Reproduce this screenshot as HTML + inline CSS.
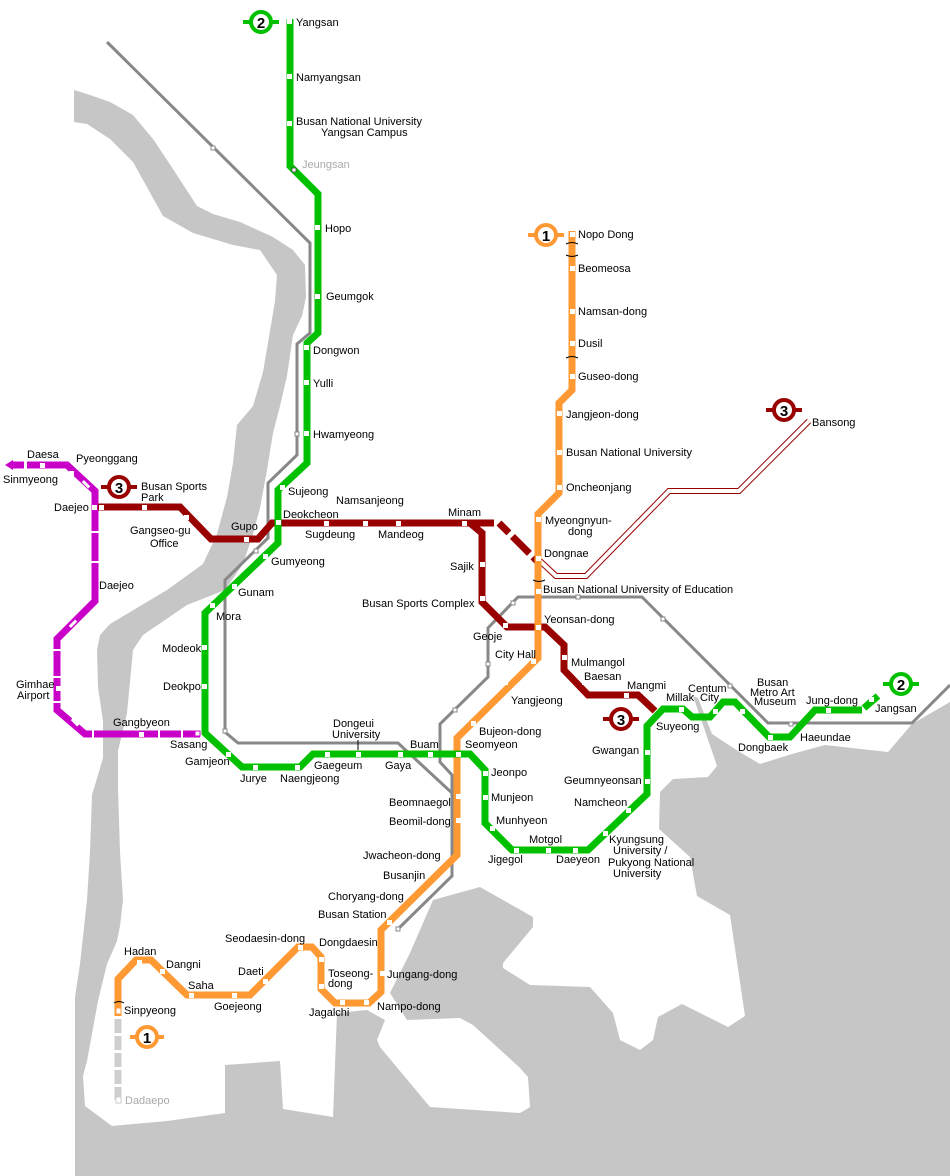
<!DOCTYPE html>
<html><head><meta charset="utf-8"><style>
html,body{margin:0;padding:0;background:#fff}
svg{display:block}
text{font-family:"Liberation Sans",sans-serif;font-size:11px;fill:#000}
.g{fill:#aaa}
.b{font-size:15px;font-weight:bold;text-anchor:middle}
</style></head><body>
<svg width="950" height="1176" viewBox="0 0 950 1176" xmlns="http://www.w3.org/2000/svg">
<!-- water -->
<polygon fill="#c6c6c6" points="74,90 87,94 110,102 133,115 153,139 173,169 197,206 213,214 240,222 273,237 293,250 305,265 306,297 302,316 293,335 287,376 280,406 273,433 267,470 260,508 253,534 243,564 225,590 187,605 143,635 133,650 127,713 118,751 118,788 120,852 123,900 120,926 117,941 107,964 98,1001 87,1061 83,1076 85,1106 112,1126 167,1121 225,1113 225,1176 75,1176 75,997 80,964 87,900 90,852 92,795 103,758 103,721 98,687 97,650 100,635 110,624 167,590 203,564 217,534 227,497 233,463 237,425 253,406 263,372 270,331 275,301 277,275 260,250 233,245 193,233 163,216 133,162 110,139 87,124 74,122"/>
<polygon fill="#c6c6c6" points="225,1176 225,1065 280,1061 283,1109 333,1117 337,1013 367,1010 385,1020 377,1040 380,1047 430,1107 520,1113 530,1107 528,1077 520,1068 473,1025 460,1018 407,1020 390,993 410,953 433,900 480,887 533,917 533,927 503,963 503,968 530,985 590,987 613,1013 620,1040 640,1050 653,1040 658,1017 682,1004 728,1027 745,1016 730,915 697,896 690,857 659,829 660,792 673,779 708,777 717,766 715,760 693,696 698,698 712,734 738,751 760,764 792,754 825,745 888,752 912,724 950,702 950,1176"/>

<!-- gray lines -->
<g fill="none" stroke="#888" stroke-width="3">
<polyline points="107,42 310,243 310,333 297,344 297,455 268,483 268,538 225,580 225,732 238,743 398,743 452,793 452,876 398,929"/>
<polyline points="452,797 452,775 440,762 440,724 488,677 488,628 518,597 642,597 768,723 912,723 950,685"/>
</g>
<g fill="#fff" stroke="#888" stroke-width="1">
<rect x="211" y="146" width="4" height="4"/><rect x="295" y="432" width="4" height="4"/>
<rect x="254" y="549" width="4" height="4"/><rect x="223" y="729" width="4" height="4"/>
<rect x="396" y="927" width="4" height="4"/><rect x="511" y="601" width="4" height="4"/>
<rect x="486" y="662" width="4" height="4"/><rect x="453" y="708" width="4" height="4"/>
<rect x="576" y="595" width="4" height="4"/><rect x="661" y="617" width="4" height="4"/>
<rect x="728" y="684" width="4" height="4"/><rect x="789" y="722" width="4" height="4"/>
</g>

<!-- Bansong double line -->
<polyline points="540,561 556,576 586,576 669,491 739,491 809,421" fill="none" stroke="#990000" stroke-width="6"/>
<polyline points="540,561 556,576 586,576 669,491 739,491 809,421" fill="none" stroke="#fff" stroke-width="4"/>

<!-- line 4 magenta -->
<polyline points="12,465 67,465 95,491 95,601 57,639 57,710 85,734 200,734" fill="none" stroke="#c800c8" stroke-width="7" stroke-linejoin="miter"/>
<polygon points="5,465 13,460 13,470" fill="#c800c8"/>
<g fill="#fff">
<rect x="24" y="460" width="3" height="10"/><rect x="91" y="531" width="8" height="2"/><rect x="91" y="561" width="8" height="2"/>
<rect x="53" y="649" width="8" height="2"/><rect x="53" y="676" width="8" height="2"/><rect x="53" y="701" width="8" height="2"/>
<rect x="92" y="730" width="2" height="9"/><rect x="158" y="730" width="2" height="9"/><rect x="181" y="730" width="2" height="9"/>
<rect x="72" y="619" width="3" height="9" transform="rotate(45 73 623)"/><rect x="85" y="480" width="3" height="9" transform="rotate(-45 86 485)"/>
<rect x="74" y="718" width="3" height="9" transform="rotate(-45 75 723)"/>
</g>

<!-- line 3 red -->
<polyline points="98,507 180,507 211,539 258,539 272,523 470,523 482,533 482,602 507,627 545,627 564,645 564,670 588,695 638,695 655,711" fill="none" stroke="#990000" stroke-width="7"/>
<polyline points="470,523 499,523 537,561" fill="none" stroke="#990000" stroke-width="7" stroke-dasharray="24 5 14 5"/>

<!-- line 1 orange -->
<polyline points="572,231 572,390 559,403 559,493 538,514 538,658 457,738 457,855 381,930 381,992 369,1003 335,1003 321,989 321,957 312,947 298,947 250,995 187,995 151,960 136,960 118,979 118,1016" fill="none" stroke="#ff9933" stroke-width="7"/>
<line x1="118" y1="1019" x2="118" y2="1100" stroke="#cfcfcf" stroke-width="7" stroke-dasharray="14 3"/>

<!-- line 2 green -->
<polyline points="290,19 290,166 318,194 318,333 307,343 307,463 278,490 278,543 205,613 205,733 242,767 300,767 313,754 470,754 485,770 485,823 512,850 588,850 647,794 647,726 663,709 683,709 692,717 710,717 723,702 735,702 769,737 790,737 815,710 862,710" fill="none" stroke="#00c000" stroke-width="7"/>
<line x1="864" y1="708" x2="878" y2="696" stroke="#00c000" stroke-width="7"/>

<!-- station markers -->
<g fill="#fff">
<rect x="287" y="19" width="5" height="5"/><rect x="287" y="74" width="5" height="5"/><rect x="287" y="121" width="5" height="5"/>
<rect x="315" y="225" width="5" height="5"/><rect x="315" y="294" width="5" height="5"/><rect x="304" y="345" width="5" height="5"/>
<rect x="304" y="380" width="5" height="5"/><rect x="304" y="431" width="5" height="5"/><rect x="280" y="485" width="5" height="5"/>
<rect x="276" y="520" width="5" height="5"/><rect x="263" y="554" width="5" height="5"/><rect x="232" y="584" width="5" height="5"/>
<rect x="210" y="603" width="5" height="5"/><rect x="202" y="645" width="5" height="5"/><rect x="202" y="684" width="5" height="5"/>
<rect x="226" y="752" width="5" height="5"/><rect x="253" y="765" width="5" height="5"/><rect x="295" y="765" width="5" height="5"/>
<rect x="325" y="752" width="5" height="5"/><rect x="356" y="752" width="5" height="5"/><rect x="398" y="752" width="5" height="5"/>
<rect x="428" y="752" width="5" height="5"/><rect x="456" y="752" width="5" height="5"/><rect x="483" y="771" width="5" height="5"/>
<rect x="483" y="795" width="5" height="5"/><rect x="490" y="826" width="5" height="5"/><rect x="514" y="848" width="5" height="5"/>
<rect x="546" y="848" width="5" height="5"/><rect x="573" y="848" width="5" height="5"/><rect x="603" y="831" width="5" height="5"/>
<rect x="626" y="808" width="5" height="5"/><rect x="645" y="779" width="5" height="5"/><rect x="645" y="750" width="5" height="5"/>
<rect x="655" y="701" width="5" height="5"/><rect x="679" y="707" width="5" height="5"/><rect x="713" y="709" width="5" height="5"/>
<rect x="740" y="709" width="5" height="5"/><rect x="768" y="735" width="5" height="5"/><rect x="794" y="713" width="5" height="5"/>
<rect x="826" y="708" width="5" height="5"/><rect x="869" y="697" width="5" height="5"/>
<rect x="570" y="232" width="5" height="5"/><rect x="570" y="266" width="5" height="5"/><rect x="570" y="309" width="5" height="5"/>
<rect x="570" y="341" width="5" height="5"/><rect x="570" y="374" width="5" height="5"/><rect x="557" y="411" width="5" height="5"/>
<rect x="557" y="450" width="5" height="5"/><rect x="557" y="485" width="5" height="5"/><rect x="536" y="517" width="5" height="5"/>
<rect x="536" y="556" width="5" height="5"/><rect x="536" y="589" width="5" height="5"/><rect x="536" y="625" width="5" height="5"/>
<rect x="531" y="659" width="5" height="5"/><rect x="503" y="680" width="5" height="5"/><rect x="471" y="721" width="5" height="5"/>
<rect x="456" y="794" width="5" height="5"/><rect x="456" y="818" width="5" height="5"/><rect x="445" y="835" width="5" height="5"/>
<rect x="428" y="849" width="5" height="5"/><rect x="408" y="867" width="5" height="5"/><rect x="387" y="920" width="5" height="5"/>
<rect x="380" y="971" width="5" height="5"/><rect x="364" y="1000" width="5" height="5"/><rect x="340" y="1000" width="5" height="5"/>
<rect x="319" y="984" width="5" height="5"/><rect x="319" y="957" width="5" height="5"/><rect x="298" y="945" width="5" height="5"/>
<rect x="263" y="979" width="5" height="5"/><rect x="232" y="993" width="5" height="5"/><rect x="189" y="993" width="5" height="5"/>
<rect x="160" y="969" width="5" height="5"/><rect x="137" y="960" width="5" height="5"/>
<rect x="99" y="505" width="5" height="5"/><rect x="142" y="505" width="5" height="5"/><rect x="184" y="515" width="5" height="5"/>
<rect x="244" y="537" width="5" height="5"/><rect x="324" y="521" width="5" height="5"/><rect x="363" y="521" width="5" height="5"/>
<rect x="396" y="521" width="5" height="5"/><rect x="462" y="521" width="5" height="5"/><rect x="480" y="562" width="5" height="5"/>
<rect x="480" y="596" width="5" height="5"/><rect x="503" y="623" width="5" height="5"/><rect x="562" y="655" width="5" height="5"/>
<rect x="582" y="680" width="5" height="5"/><rect x="624" y="693" width="5" height="5"/>
<rect x="40" y="463" width="5" height="5"/><rect x="69" y="471" width="5" height="5"/><rect x="92" y="505" width="5" height="5"/>
<rect x="56" y="686" width="5" height="5"/><rect x="139" y="732" width="5" height="5"/>
</g>
<rect x="195" y="731" width="5" height="5" fill="#fff" stroke="#c800c8"/>
<rect x="116" y="1008" width="5" height="6" fill="#fff" stroke="#ff9933"/>
<rect x="116" y="1097" width="5" height="6" fill="#fff" stroke="#ccc"/>
<rect x="292" y="168" width="4" height="4" fill="#fff" stroke="#444" stroke-width="0.8"/>
<g fill="none" stroke="#000" stroke-width="1">
<path d="M566,244 q6,-3 12,0 M566,255 q6,3 12,0 M566,358 q6,-3 12,0 M533,580 q6,3 12,0 M114,1003 q5,-3 10,0"/>
</g>

<!-- badges -->
<g stroke-width="4">
<g stroke="#00c000"><line x1="243" y1="22" x2="279" y2="22"/><circle cx="261" cy="22" r="10" fill="#fff"/></g>
<g stroke="#ff9933"><line x1="528" y1="235" x2="564" y2="235"/><circle cx="546" cy="235" r="10" fill="#fff"/></g>
<g stroke="#990000"><line x1="101" y1="487" x2="137" y2="487"/><circle cx="119" cy="487" r="10" fill="#fff"/></g>
<g stroke="#990000"><line x1="766" y1="410" x2="802" y2="410"/><circle cx="784" cy="410" r="10" fill="#fff"/></g>
<g stroke="#990000"><line x1="603" y1="719" x2="639" y2="719"/><circle cx="621" cy="719" r="10" fill="#fff"/></g>
<g stroke="#00c000"><line x1="883" y1="684" x2="919" y2="684"/><circle cx="901" cy="684" r="10" fill="#fff"/></g>
<g stroke="#ff9933"><line x1="130" y1="1037" x2="164" y2="1037"/><circle cx="147" cy="1037" r="10" fill="#fff"/></g>
</g>
<text class="b" x="261" y="28">2</text><text class="b" x="546" y="241">1</text><text class="b" x="119" y="493">3</text>
<text class="b" x="784" y="416">3</text><text class="b" x="621" y="725">3</text><text class="b" x="901" y="690">2</text><text class="b" x="147" y="1043">1</text>

<!-- labels -->
<text x="296" y="26">Yangsan</text><text x="296" y="81">Namyangsan</text>
<text x="296" y="125">Busan National University</text><text x="321" y="136">Yangsan  Campus</text>
<text x="302" y="168" class="g">Jeungsan</text><text x="325" y="232">Hopo</text><text x="326" y="300">Geumgok</text>
<text x="313" y="354">Dongwon</text><text x="313" y="387">Yulli</text><text x="313" y="438">Hwamyeong</text>
<text x="288" y="495">Sujeong</text><text x="283" y="518">Deokcheon</text><text x="271" y="565">Gumyeong</text>
<text x="238" y="596">Gunam</text><text x="216" y="620">Mora</text><text x="162" y="652">Modeok</text><text x="163" y="690">Deokpo</text>
<text x="170" y="748">Sasang</text><text x="185" y="765">Gamjeon</text><text x="240" y="782">Jurye</text><text x="280" y="782">Naengjeong</text>
<text x="314" y="769">Gaegeum</text><text x="333" y="727">Dongeui</text><text x="332" y="738">University</text>
<line x1="358" y1="740" x2="358" y2="750" stroke="#000"/>
<text x="385" y="769">Gaya</text><text x="410" y="748">Buam</text><text x="465" y="748">Seomyeon</text>
<text x="491" y="776">Jeonpo</text><text x="491" y="801">Munjeon</text><text x="496" y="824">Munhyeon</text>
<text x="529" y="843">Motgol</text><text x="488" y="863">Jigegol</text><text x="556" y="863">Daeyeon</text>
<text x="609" y="843">Kyungsung</text><text x="613" y="854">University /</text><text x="608" y="866">Pukyong National</text><text x="613" y="877">University</text>
<text x="574" y="806">Namcheon</text><text x="564" y="784">Geumnyeonsan</text><text x="592" y="754">Gwangan</text>
<text x="656" y="730">Suyeong</text><text x="666" y="701">Millak</text><text x="688" y="692">Centum</text><text x="700" y="701">City</text>
<text x="738" y="751">Dongbaek</text><text x="800" y="741">Haeundae</text>
<text x="757" y="686">Busan</text><text x="750" y="696">Metro Art</text><text x="754" y="705">Museum</text>
<text x="806" y="704">Jung-dong</text><text x="875" y="712">Jangsan</text>

<text x="578" y="238">Nopo Dong</text><text x="578" y="272">Beomeosa</text><text x="578" y="315">Namsan-dong</text>
<text x="578" y="347">Dusil</text><text x="578" y="380">Guseo-dong</text><text x="566" y="418">Jangjeon-dong</text>
<text x="566" y="456">Busan National University</text><text x="566" y="491">Oncheonjang</text>
<text x="545" y="524">Myeongnyun-</text><text x="568" y="535">dong</text><text x="544" y="557">Dongnae</text>
<text x="543" y="593">Busan National University of Education</text><text x="544" y="623">Yeonsan-dong</text>
<text x="495" y="658">City Hall</text><text x="511" y="704">Yangjeong</text><text x="479" y="735">Bujeon-dong</text>
<text x="389" y="806">Beomnaegol</text><text x="389" y="825">Beomil-dong</text><text x="363" y="859">Jwacheon-dong</text>
<text x="383" y="879">Busanjin</text><text x="328" y="900">Choryang-dong</text><text x="318" y="918">Busan Station</text>
<text x="319" y="946">Dongdaesin</text><text x="225" y="942">Seodaesin-dong</text>
<text x="328" y="977">Toseong-</text><text x="328" y="987">dong</text><text x="387" y="978">Jungang-dong</text>
<text x="377" y="1010">Nampo-dong</text><text x="309" y="1016">Jagalchi</text><text x="238" y="975">Daeti</text>
<text x="214" y="1010">Goejeong</text><text x="188" y="989">Saha</text><text x="166" y="968">Dangni</text>
<text x="124" y="955">Hadan</text><text x="124" y="1014">Sinpyeong</text><text x="125" y="1104" class="g">Dadaepo</text>

<text x="141" y="490">Busan Sports</text><text x="141" y="501">Park</text><text x="54" y="511">Daejeo</text>
<text x="130" y="534">Gangseo-gu</text><text x="150" y="547">Office</text><text x="231" y="530">Gupo</text>
<text x="336" y="504">Namsanjeong</text><text x="305" y="538">Sugdeung</text><text x="378" y="538">Mandeog</text>
<text x="448" y="516">Minam</text><text x="450" y="570">Sajik</text><text x="362" y="607">Busan Sports Complex</text>
<text x="473" y="640">Geoje</text><text x="571" y="666">Mulmangol</text><text x="584" y="680">Baesan</text>
<text x="627" y="689">Mangmi</text><text x="812" y="426">Bansong</text>

<text x="27" y="458">Daesa</text><text x="76" y="462">Pyeonggang</text><text x="3" y="483">Sinmyeong</text>
<text x="99" y="589">Daejeo</text><text x="16" y="688">Gimhae</text><text x="17" y="699">Airport</text><text x="113" y="726">Gangbyeon</text>
</svg>
</body></html>
